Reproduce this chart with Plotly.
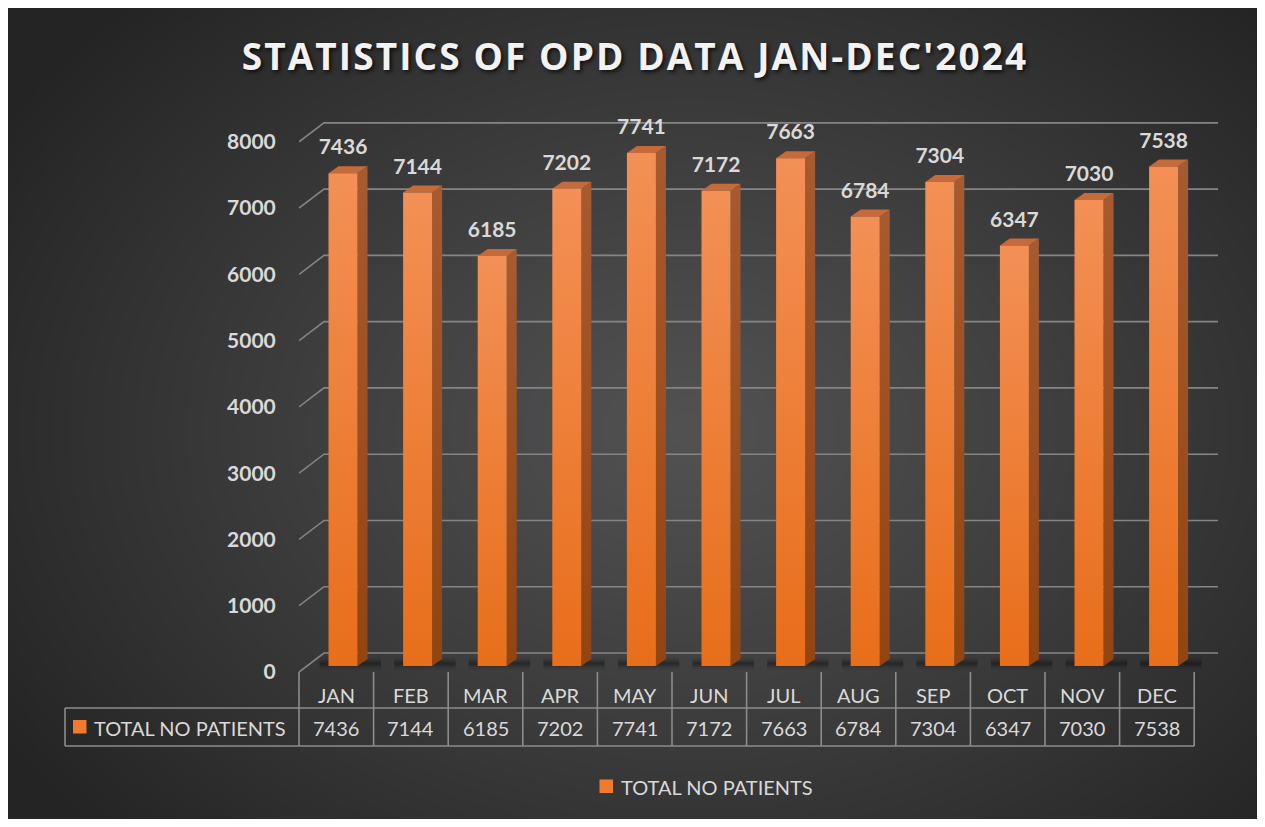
import base64, struct, zlib
import numpy as np
import plotly.graph_objects as go

# ---------------- data ----------------
months = ["JAN", "FEB", "MAR", "APR", "MAY", "JUN", "JUL", "AUG", "SEP", "OCT", "NOV", "DEC"]
patients = [7436, 7144, 6185, 7202, 7741, 7172, 7663, 6784, 7304, 6347, 7030, 7538]
y_ticks = [0, 1000, 2000, 3000, 4000, 5000, 6000, 7000, 8000]
series_name = "TOTAL NO PATIENTS"
title_text = "STATISTICS OF OPD DATA JAN-DEC'2024"

# ---------------- geometry (screen pixels; page offset S) ----------------
S = 8                                      # body margin of the page
W, H = 1265 - 2 * S, 827 - 2 * S           # fits the window without scrollbars
L, R, T, B = 299, 1230, 100, 680           # plot area in screen px
PW, PH = R - L, B - T
UX = 74.6                                  # px per category
FLOOR = 666                                # screen px of bar floor
UY = 0.06627                               # px per patient unit
XR = [-0.5, -0.5 + PW / UX]
YR = [-(B - FLOOR) / UY, (FLOOR - T) / UY]


def xp(xd):  # data x -> paper
    return (xd - XR[0]) / (XR[1] - XR[0])


def pxx(px):
    return (px - L) / PW


def pxy(py):
    return (B - py) / PH


FONT = "Lato"
TXT = "#D9D9D9"

# ---------------- background gradient image ----------------
iw, ih = 625, 406
yy, xx = np.mgrid[0:ih, 0:iw]
gx = xx / (iw - 1) * W + S
gy = yy / (ih - 1) * H + S
d = np.sqrt(((gx - 690) / 820) ** 2 + ((gy - 430) / 600) ** 2)
d = np.clip(d, 0, 1)
val = 82 - (82 - 36) * d ** 1.1
arr = np.repeat(val[:, :, None], 3, axis=2).astype(np.uint8)
raw = b"".join(b"\x00" + arr[r].tobytes() for r in range(ih))


def chunk(t, data):
    return struct.pack(">I", len(data)) + t + data + struct.pack(">I", zlib.crc32(t + data) & 0xFFFFFFFF)


png = (b"\x89PNG\r\n\x1a\n" + chunk(b"IHDR", struct.pack(">IIBBBBB", iw, ih, 8, 2, 0, 0, 0))
       + chunk(b"IDAT", zlib.compress(raw, 9)) + chunk(b"IEND", b""))
bg_src = "data:image/png;base64," + base64.b64encode(png).decode()

fig = go.Figure()

# ---------------- gridlines (3D walls) ----------------
front_off = -(672 - FLOOR) / UY
back_off = (FLOOR - 653) / UY
back_dx = 25 / UX
x_end = -0.5 + (1218 - L) / UX
for v in y_ticks:
    fig.add_trace(go.Scatter(
        x=[-0.5, -0.5 + back_dx, x_end],
        y=[v + front_off, v + back_off, v + back_off],
        mode="lines", line=dict(color="#858585", width=1.6),
        hoverinfo="skip", showlegend=False))

# ---------------- bars (pseudo 3D) ----------------
hw = 14.5 / UX
dx = 10 / UX
dy = 7 / UY
shift = 0.09
for i, v in enumerate(patients):
    cx = i + shift
    for w, op in [(12, 0.07), (7, 0.12), (3, 0.18)]:
        fig.add_trace(go.Scatter(
            x=[cx - hw - 0.12, cx + hw + dx + 0.18], y=[dy * 0.35, dy * 0.35],
            mode="lines", line=dict(color=f"rgba(0,0,0,{op})", width=w),
            hoverinfo="skip", showlegend=False))
for i, v in enumerate(patients):
    cx = i + shift
    # side face
    fig.add_trace(go.Scatter(
        x=[cx + hw, cx + hw + dx, cx + hw + dx, cx + hw, cx + hw],
        y=[0, dy, v + dy, v, 0],
        fill="toself", mode="lines", line=dict(width=0),
        fillgradient=dict(type="vertical", colorscale=[[0, "#924510"], [1, "#A85A30"]]),
        hoverinfo="skip", showlegend=False))
    # top face
    fig.add_trace(go.Scatter(
        x=[cx - hw, cx + hw, cx + hw + dx, cx - hw + dx, cx - hw],
        y=[v, v, v + dy, v + dy, v],
        fill="toself", mode="lines", line=dict(width=0), fillcolor="#C56B3B",
        hoverinfo="skip", showlegend=False))
    # front face
    fig.add_trace(go.Scatter(
        x=[cx - hw, cx + hw, cx + hw, cx - hw, cx - hw],
        y=[0, 0, v, v, 0],
        fill="toself", mode="lines", line=dict(width=0),
        fillgradient=dict(type="vertical", colorscale=[[0, "#E86E1A"], [1, "#F39056"]]),
        name=series_name, hoverinfo="skip", showlegend=False))

# ---------------- data labels ----------------
fig.add_trace(go.Scatter(
    x=[i + shift for i in range(len(patients))],
    y=[v + 24 / UY for v in patients],
    text=[str(v) for v in patients],
    mode="text", textposition="middle center",
    textfont=dict(family=FONT, size=21, color=TXT, weight="bold"),
    cliponaxis=False, hoverinfo="skip", showlegend=False))

# ---------------- data table ----------------
shapes = []
annotations = []
line_c = "#8C8C8C"
y_top, y_mid, y_bot = 672, 708, 746
for k in range(len(months) + 1):
    xk = xp(-0.5 + k)
    shapes.append(dict(type="line", xref="paper", yref="paper", x0=xk, x1=xk,
                       y0=pxy(y_top), y1=pxy(y_bot), line=dict(color=line_c, width=1.6)))
for yv in (y_mid, y_bot):
    shapes.append(dict(type="line", xref="paper", yref="paper", x0=pxx(65), x1=xp(len(months) - 0.5),
                       y0=pxy(yv), y1=pxy(yv), line=dict(color=line_c, width=1.6)))
shapes.append(dict(type="line", xref="paper", yref="paper", x0=pxx(65), x1=pxx(65),
                   y0=pxy(y_mid), y1=pxy(y_bot), line=dict(color=line_c, width=1.6)))
shapes.append(dict(type="rect", xref="paper", yref="paper", x0=pxx(73), x1=pxx(86.5),
                   y0=pxy(733.5), y1=pxy(720), line=dict(width=0), fillcolor="#F07A2E"))
annotations.append(dict(text=series_name, xref="paper", yref="paper", x=pxx(92), y=pxy(727.5),
                        xanchor="left", yanchor="middle", showarrow=False,
                        font=dict(family=FONT, size=20, color=TXT)))
for i, (m, v) in enumerate(zip(months, patients)):
    annotations.append(dict(text=m, xref="x", yref="paper", x=i, y=pxy(694.5), xanchor="center",
                            yanchor="middle", showarrow=False, font=dict(family=FONT, size=20, color=TXT)))
    annotations.append(dict(text=str(v), xref="x", yref="paper", x=i, y=pxy(727.5), xanchor="center",
                            yanchor="middle", showarrow=False, font=dict(family=FONT, size=20, color=TXT)))

# ---------------- legend ----------------
shapes.append(dict(type="rect", xref="paper", yref="paper", x0=pxx(599.5), x1=pxx(613),
                   y0=pxy(793), y1=pxy(779.5), line=dict(width=0), fillcolor="#F07A2E"))
annotations.append(dict(text=series_name, xref="paper", yref="paper", x=pxx(619), y=pxy(786.5),
                        xanchor="left", yanchor="middle", showarrow=False,
                        font=dict(family=FONT, size=20, color=TXT)))

fig.update_layout(
    width=W, height=H,
    margin=dict(l=L - S, r=W - (R - S), t=T - S, b=H - (B - S), pad=0),
    paper_bgcolor="#2A2A2A", plot_bgcolor="rgba(0,0,0,0)",
    showlegend=False,
    title=dict(text='<span style="letter-spacing:2.1px">' + title_text + "</span>",
               xref="container", yref="container", x=(635 - S) / W, y=1 - (57 - S) / H,
               xanchor="center", yanchor="middle",
               font=dict(family="Open Sans", size=37, color="#F2F2F2", weight="bold",
                         shadow="2px 2px 4px rgba(0,0,0,0.75)")),
    xaxis=dict(range=XR, showgrid=False, zeroline=False, showticklabels=False, showline=False,
               fixedrange=True),
    yaxis=dict(range=YR, showgrid=False, zeroline=False, showline=False,
               tickvals=[v + front_off for v in y_ticks], ticktext=[str(v) for v in y_ticks],
               ticks="outside", ticklen=18, tickcolor="rgba(0,0,0,0)",
               tickfont=dict(family=FONT, size=21, color=TXT, weight="bold"), fixedrange=True),
    shapes=shapes, annotations=annotations,
    images=[dict(source=bg_src, xref="paper", yref="paper", x=pxx(S), y=pxy(S),
                 sizex=W / PW, sizey=H / PH, sizing="stretch",
                 xanchor="left", yanchor="top", layer="below")],
)

fig.write_html("out.html")
